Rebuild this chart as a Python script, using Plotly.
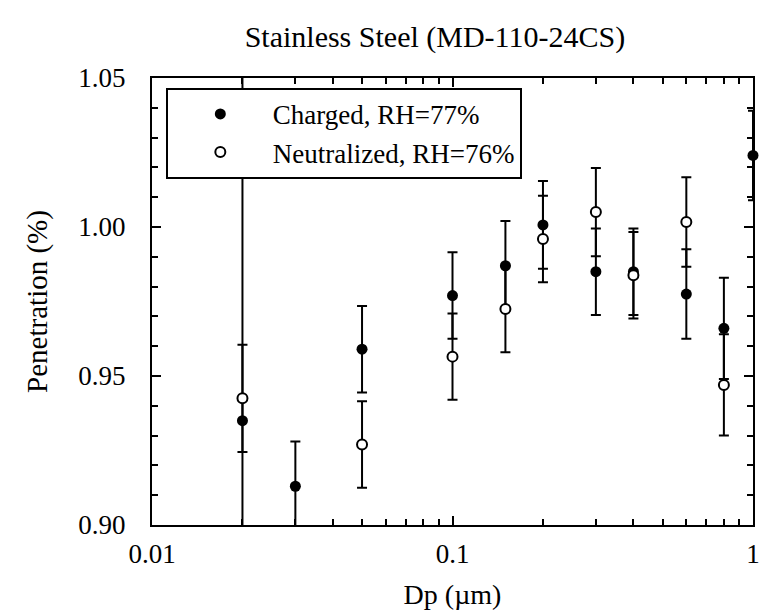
import plotly.graph_objects as go

# ---- data ----
dp = [0.02, 0.03, 0.05, 0.1, 0.15, 0.2, 0.3, 0.4, 0.6, 0.8, 1.0]
charged = [0.935, 0.913, 0.959, 0.977, 0.987, 1.0007, 0.985, 0.985, 0.9775, 0.966, 1.024]
charged_err = [0.12, 0.015, 0.0145, 0.0145, 0.015, 0.0147, 0.0145, 0.0145, 0.015, 0.017, 0.015]
neutral = [0.9425, None, 0.927, 0.9565, 0.9725, 0.996, 1.005, 0.9838, 1.0017, 0.947, None]
neutral_err = [0.018, 0, 0.0145, 0.0145, 0.0145, 0.0145, 0.0148, 0.0145, 0.015, 0.017, 0]

x_tickvals = [0.01, 0.1, 1]
x_ticktext = ["0.01", "0.1", "1"]
y_tickvals = [0.90, 0.95, 1.00, 1.05]
y_ticktext = ["0.90", "0.95", "1.00", "1.05"]

FONT = "Liberation Serif"

fig = go.Figure()
fig.add_trace(go.Scatter(
    x=dp, y=charged, mode="markers", name="Charged, RH=77%",
    marker=dict(symbol="circle", size=11, color="black"),
    error_y=dict(type="data", array=charged_err, visible=True,
                 color="black", thickness=2, width=5),
    cliponaxis=False,
))
fig.add_trace(go.Scatter(
    x=dp, y=neutral, mode="markers", name="Neutralized, RH=76%",
    marker=dict(symbol="circle", size=10, color="white",
                line=dict(color="black", width=2)),
    error_y=dict(type="data", array=neutral_err, visible=True,
                 color="black", thickness=2, width=5),
    cliponaxis=False,
))

fig.update_layout(
    width=763, height=615,
    margin=dict(l=152, r=10, t=78, b=90, autoexpand=False),
    paper_bgcolor="white", plot_bgcolor="white",
    font=dict(family=FONT, size=27, color="black"),
    title=dict(text="Stainless Steel (MD-110-24CS)", x=0.57, xref="container",
               xanchor="center", y=0.94, yref="container", yanchor="middle",
               font=dict(family=FONT, size=30, color="black")),
    showlegend=True,
    legend=dict(x=0.023, y=0.978, xanchor="left", yanchor="top",
                bgcolor="white", bordercolor="black", borderwidth=2,
                font=dict(family=FONT, size=27, color="black"),
                itemwidth=95),
)

fig.update_xaxes(
    type="log", range=[-2, 0], automargin=False,
    tickvals=x_tickvals, ticktext=x_ticktext,
    ticks="inside", ticklen=9, tickwidth=2, tickcolor="black",
    minor=dict(ticks="inside", ticklen=6, tickwidth=1.5, tickcolor="black",
               dtick="D1", showgrid=False),
    showline=True, linecolor="black", linewidth=2, mirror="ticks",
    showgrid=False, zeroline=False,
    ticklabelstandoff=4, ticklabeloverflow="allow",
    title=dict(text="Dp (µm)", font=dict(family=FONT, size=28), standoff=16),
)
fig.update_yaxes(
    range=[0.90, 1.05], automargin=False,
    tickvals=y_tickvals, ticktext=y_ticktext,
    ticks="inside", ticklen=9, tickwidth=2, tickcolor="black",
    minor=dict(ticks="inside", ticklen=6, tickwidth=1.5, tickcolor="black",
               dtick=0.01, showgrid=False),
    showline=True, linecolor="black", linewidth=2, mirror="ticks",
    showgrid=False, zeroline=False,
    ticklabelstandoff=19, ticklabeloverflow="allow",
    title=dict(text="Penetration (%)", font=dict(family=FONT, size=29), standoff=22),
)

fig.write_html(
    "out.html",
    config={"displayModeBar": False},
    post_script="document.body.style.margin='0';document.body.style.overflow='hidden';",
)
